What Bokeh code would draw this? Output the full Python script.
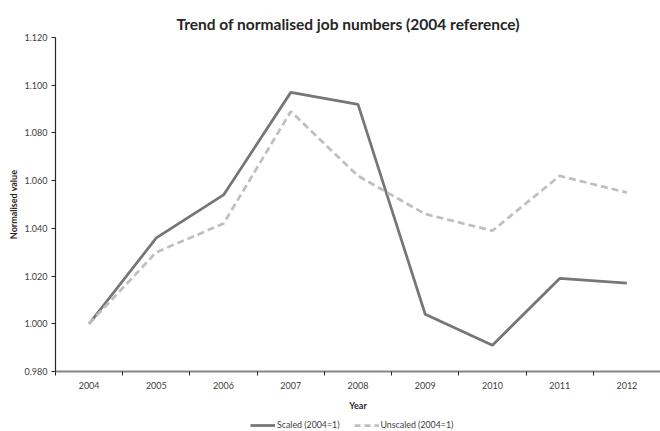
from bokeh.plotting import figure
from bokeh.layouts import column
from bokeh.models import Range1d, FixedTicker, NumeralTickFormatter, Legend, LegendItem
from bokeh.embed import file_html
from bokeh.resources import INLINE

years = ["2004", "2005", "2006", "2007", "2008", "2009", "2010", "2011", "2012"]
scaled = [1.000, 1.036, 1.054, 1.097, 1.092, 1.004, 0.991, 1.019, 1.017]
unscaled = [1.000, 1.030, 1.042, 1.089, 1.062, 1.046, 1.039, 1.062, 1.055]
y_ticks = [0.98, 1.00, 1.02, 1.04, 1.06, 1.08, 1.10, 1.12]
series_names = ["Scaled (2004=1)", "Unscaled (2004=1)"]

FONT = "Lato"
C_SCALED = "#767676"
C_UNSCALED = "#BFBFBF"

xs = [i + 0.5 for i in range(len(years))]

p = figure(width=660, height=413, output_backend="svg", toolbar_location=None,
           x_range=Range1d(0, len(years)), y_range=Range1d(y_ticks[0], y_ticks[-1]),
           min_border_left=55, min_border_right=0, min_border_top=37, min_border_bottom=40)

p.title.text = "Trend of normalised job numbers (2004 reference)"
p.title.align = "left"
p.title.offset = 121
p.title.text_font = FONT
p.title.text_font_size = "15.5px"
p.title.text_font_style = "bold"
p.title.text_color = "#262626"

p.xgrid.visible = False
p.ygrid.visible = False
p.outline_line_color = None

# y axis
ya = p.yaxis[0]
ya.ticker = FixedTicker(ticks=y_ticks)
ya.formatter = NumeralTickFormatter(format="0.000")
ya.axis_label = "Normalised value"
ya.axis_label_text_font = FONT
ya.axis_label_text_font_size = "9px"
ya.axis_label_text_font_style = "bold"
ya.axis_label_text_color = "#262626"
ya.axis_label_standoff = 2
ya.major_label_text_font = FONT
ya.major_label_text_font_size = "9px"
ya.major_label_text_color = "#404040"
ya.major_label_standoff = 4
ya.axis_line_color = "#262626"
ya.axis_line_width = 1.2
ya.major_tick_line_color = "#262626"
ya.major_tick_out = 4
ya.major_tick_in = 0
ya.minor_tick_line_color = None

# x axis
xa = p.xaxis[0]
xa.ticker = FixedTicker(ticks=xs, minor_ticks=list(range(len(years) + 1)))
xa.major_label_overrides = {x: y for x, y in zip(xs, years)}
xa.axis_label = "Year"
xa.axis_label_text_font = FONT
xa.axis_label_text_font_size = "9px"
xa.axis_label_text_font_style = "bold"
xa.axis_label_text_color = "#262626"
xa.axis_label_standoff = 8
xa.major_label_text_font = FONT
xa.major_label_text_font_size = "9px"
xa.major_label_text_color = "#404040"
xa.major_label_standoff = 6
xa.axis_line_color = "#868686"
xa.axis_line_width = 2
xa.major_tick_line_color = None
xa.major_tick_out = 0
xa.major_tick_in = 0
xa.minor_tick_line_color = "#262626"
xa.minor_tick_out = 4
xa.minor_tick_in = 0

p.line(xs, scaled, line_color=C_SCALED, line_width=2.75)
p.line(xs, unscaled, line_color=C_UNSCALED, line_width=2.75, line_dash="7 4")

# legend strip below the chart
lg = figure(width=660, height=18, output_backend="svg", toolbar_location=None,
            x_axis_location=None, y_axis_location=None,
            x_range=Range1d(0, 1), y_range=Range1d(0, 1),
            min_border_left=0, min_border_right=0, min_border_top=0, min_border_bottom=0)
lg.xgrid.visible = False
lg.ygrid.visible = False
lg.outline_line_color = None
l1 = lg.line(xs, scaled, line_color=C_SCALED, line_width=2.75, visible=False)
l2 = lg.line(xs, unscaled, line_color=C_UNSCALED, line_width=2.75, line_dash="6 4", visible=False)
legend = Legend(items=[LegendItem(label=series_names[0], renderers=[l1]),
                       LegendItem(label=series_names[1], renderers=[l2])],
                orientation="horizontal", location=(195, 1),
                label_text_font=FONT, label_text_font_size="8.8px", label_text_color="#404040",
                glyph_width=25, glyph_height=10, spacing=14, label_standoff=2,
                border_line_color=None, background_fill_alpha=0, padding=2, margin=0)
lg.add_layout(legend, "center")

layout = column(p, lg, spacing=0)
open("out.html", "w").write(file_html(layout, INLINE))
